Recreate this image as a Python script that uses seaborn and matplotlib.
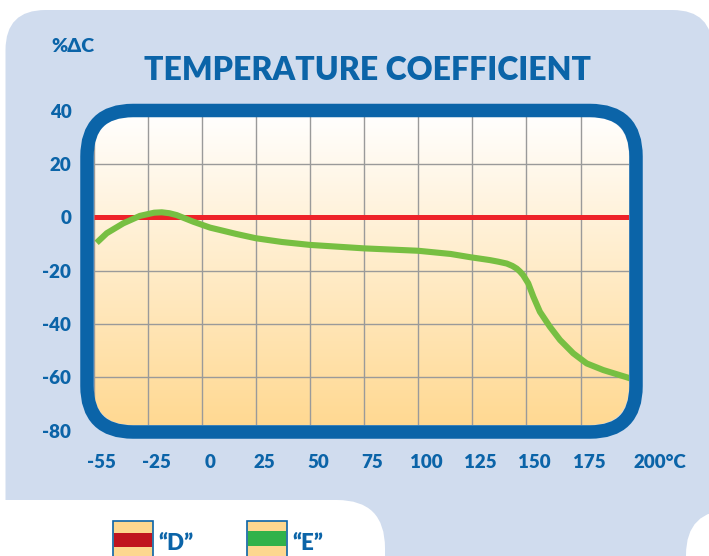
import pandas as pd
import matplotlib.pyplot as plt
import seaborn as sns
from matplotlib.patches import FancyBboxPatch, Rectangle
from matplotlib.transforms import IdentityTransform, ScaledTranslation
import numpy as np

# Data (x in axis units, left edge labelled -55)
e_temp = [-48.6, -43.9, -36.3, -28.6, -22, -18.5, -15, -11.6, -3.9, 3.8, 8.4, 16, 25, 37,
          50, 75, 100, 115, 123.9, 133.1, 137, 140.9, 143.5, 145.5, 147, 148.5, 150.8,
          153.2, 156.2, 160.8, 165.5, 171.6, 177.8, 185.5, 196.3, 200]
e_values = [-9.5, -5.9, -2.2, 0.6, 1.8, 1.95, 1.6, 0.9, -1.6, -3.8, -4.7, -6.2, -7.8, -9.2,
            -10.3, -11.6, -12.5, -13.7, -14.9, -16.0, -16.6, -17.3, -18.2, -19.2, -20.3,
            -21.7, -24.7, -29.8, -35.4, -41.0, -46.0, -51.0, -54.8, -57.3, -60.0, -61.0]
d_temp = [-50, 200]
d_values = [0, 0]

x_ticks = [-50, -25, 0, 25, 50, 75, 100, 125, 150, 175, 200]
x_labels = ["-55", "-25", "0", "25", "50", "75", "100", "125", "150", "175", "200°C"]
y_ticks = [-80, -60, -40, -20, 0, 20, 40]

blue = "#0B64A8"
panel = "#D0DCEE"

sns.set_style("white")
plt.rcParams["font.family"] = ["Lato", "DejaVu Sans"]
plt.rcParams["axes.unicode_minus"] = False

fig = plt.figure(figsize=(7.09, 5.56), dpi=100)
fig.patch.set_facecolor("white")
H = 556

# background panel + white cut-outs (pixel coords)
fig.add_artist(FancyBboxPatch((5.5, -100), 707, H - 10 + 100,
                              boxstyle="round,pad=0,rounding_size=40",
                              transform=IdentityTransform(), fc=panel, ec="none", zorder=-3))
fig.add_artist(FancyBboxPatch((-100, -100), 485, H - 500 + 100,
                              boxstyle="round,pad=0,rounding_size=48",
                              transform=IdentityTransform(), fc="white", ec="none", zorder=-2))
fig.add_artist(FancyBboxPatch((686, -100), 200, H - 510 + 100,
                              boxstyle="round,pad=0,rounding_size=45",
                              transform=IdentityTransform(), fc="white", ec="none", zorder=-2))

ax = fig.add_axes([0.1320, 0.2257, 0.7632, 0.5747])
ax.set_facecolor("none")

inner = FancyBboxPatch((93.5, H - 425), 535.5, 308,
                       boxstyle="round,pad=0,rounding_size=39",
                       transform=IdentityTransform(), fc="none", ec="none")

# gradient fill
grad = np.linspace(0, 1, 256).reshape(-1, 1)
top = np.array([1.0, 1.0, 1.0])
bot = np.array([255, 216, 144]) / 255
img = top + (bot - top) * grad[:, :, None] * np.ones((1, 1, 3))
im = ax.imshow(img, extent=[-50, 200, -80, 40], aspect="auto", origin="upper", zorder=0)
im.set_clip_path(inner)

df_d = pd.DataFrame({"temp": d_temp, "value": d_values})
df_e = pd.DataFrame({"temp": e_temp, "value": e_values})
sns.lineplot(data=df_d, x="temp", y="value", color="#EE2229", linewidth=3.6, ax=ax, zorder=2)
sns.lineplot(data=df_e, x="temp", y="value", color="#77BF42", linewidth=4.4, ax=ax, zorder=3)
for ln in ax.get_lines():
    ln.set_clip_path(inner)
    ln.set_solid_capstyle("butt")
    ln.set_solid_joinstyle("round")

ax.set_xlim(-50, 200)
ax.set_ylim(-80, 40)
ax.set_xticks(x_ticks)
ax.set_xticklabels(x_labels)
ax.set_yticks(y_ticks)
ax.set_xlabel("")
ax.set_ylabel("")
ax.grid(True, color="#9A9A9A", linewidth=1.0)
ax.set_axisbelow(True)
for gl in ax.get_xgridlines() + ax.get_ygridlines():
    gl.set_clip_path(inner)
    gl.set_zorder(1)
for s in ax.spines.values():
    s.set_visible(False)
ax.tick_params(length=0, labelsize=13.5, labelcolor=blue, pad=16)
ax.tick_params(axis="x", pad=17)
for lab in ax.get_xticklabels() + ax.get_yticklabels():
    lab.set_fontweight("heavy")
for i, lab in enumerate(ax.get_xticklabels()):
    dx = 18 if i == len(x_labels) - 1 else 6
    lab.set_transform(lab.get_transform() + ScaledTranslation(dx / 72, 0, fig.dpi_scale_trans))

# thick rounded frame
ax.add_artist(FancyBboxPatch((87, H - 432), 549, 321.5,
                             boxstyle="round,pad=0,rounding_size=46",
                             transform=IdentityTransform(), fc="none", ec=blue,
                             lw=13.5 * 0.72, clip_on=False, zorder=5))

fig.text(73 / 709, 1 - 46 / H, "%ΔC", ha="center", va="center", fontsize=14,
         fontweight="heavy", color=blue)
fig.text(367 / 709, 1 - 70 / H, "TEMPERATURE COEFFICIENT", ha="center", va="center",
         fontsize=23, fontweight="heavy", color=blue)

# legend swatches
for x0, col, band_y, lab in [(113, "#C0141F", 8.7, "“D”"), (247, "#30B24A", 10.3, "“E”")]:
    fig.add_artist(Rectangle((x0, -5), 40, H - 520.7 + 5, transform=IdentityTransform(),
                             fc="#FDD78F", ec=blue, lw=1.2))
    fig.add_artist(Rectangle((x0 + 1, band_y), 38, 14.5, transform=IdentityTransform(),
                             fc=col, ec="none"))
    fig.text((x0 + 45) / 709, 13 / H, lab, ha="left", va="center", fontsize=16,
             fontweight="heavy", color=blue)

fig.savefig("out.png", dpi=100)
